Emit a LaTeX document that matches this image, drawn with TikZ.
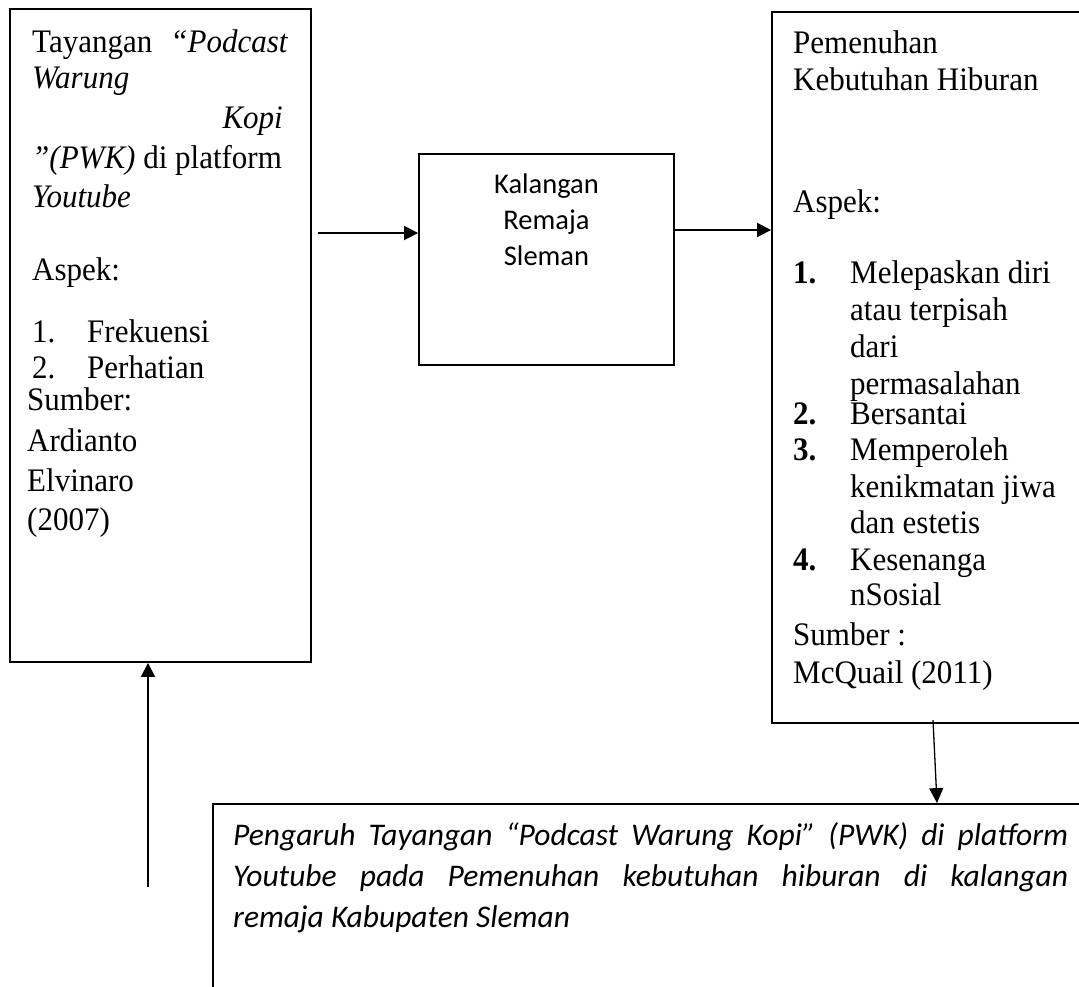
\documentclass[tikz,border=0pt]{standalone}
\usepackage{fontspec}
\usepackage{graphicx}
\setmainfont{Liberation Serif}
\newfontfamily\calibri{Carlito}
\newcommand{\sv}[1]{\scalebox{1}[1.06]{#1}}
\usetikzlibrary{arrows.meta}
\begin{document}
\begin{tikzpicture}[x=1pt,y=-1pt,
  box/.style={draw,line width=1.9pt,rectangle,inner sep=0pt},
  ser/.style={font=\fontsize{31}{37}\selectfont,inner sep=0pt,anchor=base west},
  mid/.style={font=\calibri\fontsize{28.5}{34}\selectfont,inner sep=0pt,anchor=base},
  bot/.style={font=\calibri\itshape\fontsize{31.5}{40}\selectfont,inner sep=0pt,anchor=base west},
  arr/.style={line width=1.9pt,-{Triangle[length=14pt,width=14pt]}},
  thinarr/.style={line width=1.3pt,-{Triangle[length=15pt,width=14pt]}}]
\useasboundingbox (0,0) rectangle (1079,986);
\fill[white] (0,0) rectangle (1079,986);
% boxes
\node[box,minimum width=301pt,minimum height=653pt] (left) at (160.5,335.5) {};
\node[box,minimum width=255pt,minimum height=211pt] (midbox) at (546.5,259.5) {};
\node[box,minimum width=330pt,minimum height=711pt] (right) at (937,367.5) {};
\node[box,minimum width=900pt,minimum height=260pt] (bottom) at (663,934) {};
% left box text
\node[ser] (l1) at (32,52) {\sv{\hbox to 256pt{Tayangan\hfill\textit{“Podcast}}}};
\node[ser] (l2) at (32,88) {\sv{\textit{Warung}}};
\node[ser,anchor=base east] (l3) at (283,128) {\sv{\textit{Kopi}}};
\node[ser] (l4) at (32,168) {\sv{\textit{”(PWK)} di platform}};
\node[ser] (l5) at (32,207) {\sv{\textit{Youtube}}};
\node[ser] (l6) at (32,280) {\sv{Aspek:}};
\node[ser] (l7n) at (32,342) {\sv{1.}};
\node[ser] (l7) at (87,342) {\sv{Frekuensi}};
\node[ser] (l8n) at (32,378) {\sv{2.}};
\node[ser] (l8) at (87,378) {\sv{Perhatian}};
\node[ser] (l9) at (27,410) {\sv{Sumber:}};
\node[ser] (l10) at (27,451) {\sv{Ardianto}};
\node[ser] (l11) at (27,491) {\sv{Elvinaro}};
\node[ser] (l12) at (27,530) {\sv{(2007)}};
% middle box text
\node[mid] (m1) at (546.5,193) {Kalangan};
\node[mid] (m2) at (546.5,229) {Remaja};
\node[mid] (m3) at (546.5,265) {Sleman};
% right box text
\node[ser] (r1) at (793,53) {\sv{Pemenuhan}};
\node[ser] (r2) at (793,90) {\sv{Kebutuhan Hiburan}};
\node[ser] (r3) at (793,212) {\sv{Aspek:}};
\node[ser] (r4n) at (793,283) {\sv{\textbf{1.}}};
\node[ser] (r4) at (850,283) {\sv{Melepaskan diri}};
\node[ser] (r5) at (850,320) {\sv{atau terpisah}};
\node[ser] (r6) at (850,357) {\sv{dari}};
\node[ser] (r7) at (850,394) {\sv{permasalahan}};
\node[ser] (r8n) at (793,424) {\sv{\textbf{2.}}};
\node[ser] (r8) at (850,424) {\sv{Bersantai}};
\node[ser] (r9n) at (793,460) {\sv{\textbf{3.}}};
\node[ser] (r9) at (850,460) {\sv{Memperoleh}};
\node[ser] (r10) at (850,497) {\sv{kenikmatan jiwa}};
\node[ser] (r11) at (850,533) {\sv{dan estetis}};
\node[ser] (r12n) at (793,570) {\sv{\textbf{4.}}};
\node[ser] (r12) at (850,570) {\sv{Kesenanga}};
\node[ser] (r13) at (850,605) {\sv{nSosial}};
\node[ser] (r14) at (793,645) {\sv{Sumber :}};
\node[ser] (r15) at (793,683) {\sv{McQuail (2011)}};
% bottom box text
\node[bot] (b1) at (233,845) {\hbox to 835pt{Pengaruh Tayangan “Podcast Warung Kopi” (PWK) di platform}};
\node[bot] (b2) at (233,886) {\hbox to 835pt{Youtube pada Pemenuhan kebutuhan hiburan di kalangan}};
\node[bot] (b3) at (233,927) {remaja Kabupaten Sleman};
% connectors
\coordinate (a1s) at (318,233);
\draw[arr] (a1s) -- (a1s -| midbox.west);
\coordinate (y230) at (0,230);
\draw[arr] (midbox.east |- y230) -- (right.west |- y230);
\coordinate (d1) at (933,720);
\coordinate (d2) at (937,0);
\draw[thinarr] (d1) -- (d2 |- bottom.north);
\coordinate (u0) at (148,887);
\draw[arr] (u0) -- (u0 |- left.south);
\end{tikzpicture}
\end{document}
